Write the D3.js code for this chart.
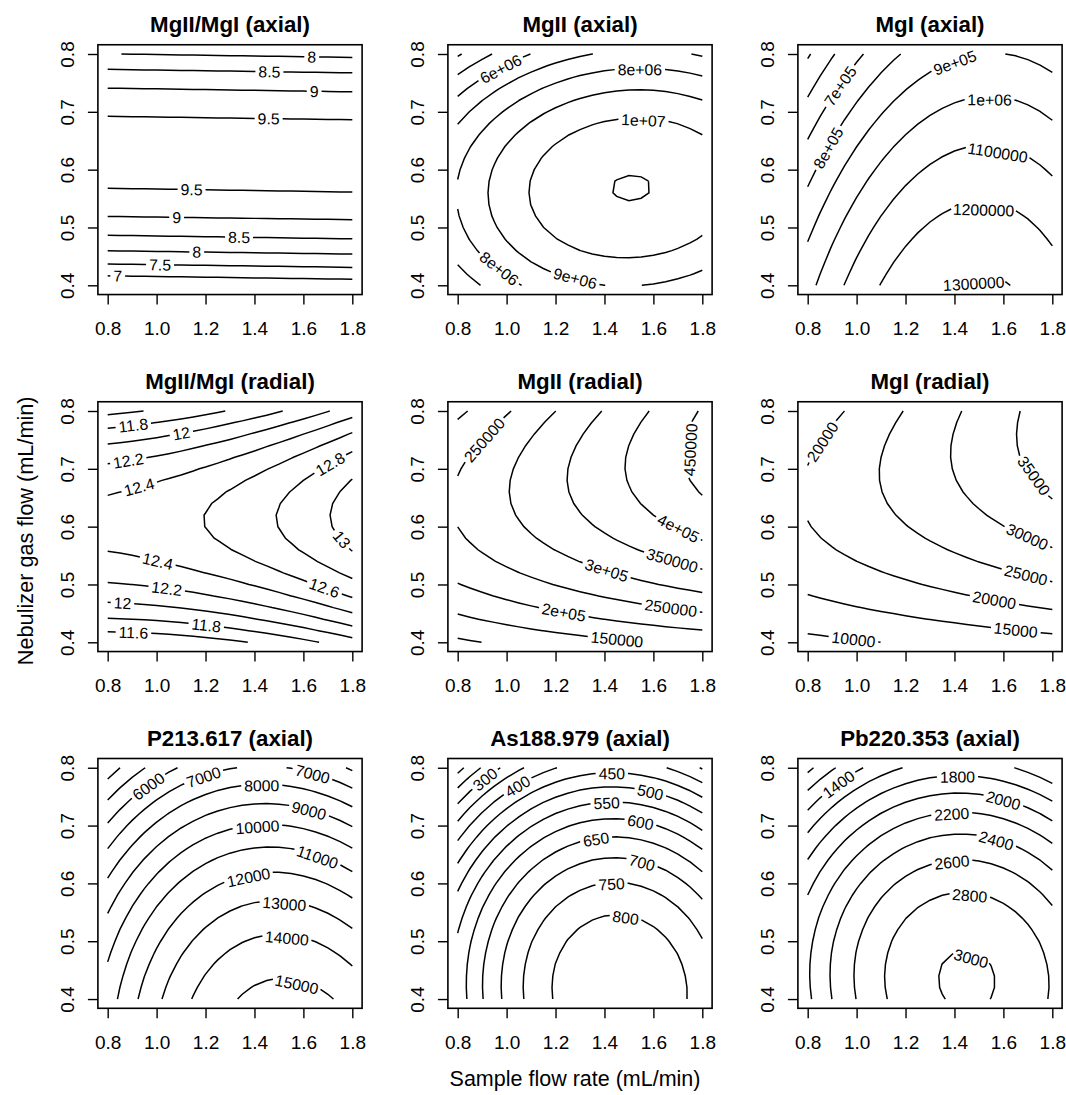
<!DOCTYPE html>
<html>
<head>
<meta charset="utf-8">
<script src="https://cdn.jsdelivr.net/npm/d3@7"></script>
<style>
  body { margin: 0; background: #fff; }
  text { font-family: "Liberation Sans", Arial, Helvetica, sans-serif; fill: #000; }
</style>
</head>
<body>
<svg id="chart" width="1066" height="1095"></svg>
<script>
////////////////// data //////////////////
var titles = ["MgII/MgI (axial)", "MgII (axial)", "MgI (axial)",
              "MgII/MgI (radial)", "MgII (radial)", "MgI (radial)",
              "P213.617 (axial)", "As188.979 (axial)", "Pb220.353 (axial)"];

var xTicks = [0.8, 1.0, 1.2, 1.4, 1.6, 1.8];
var yTicks = [0.4, 0.5, 0.6, 0.7, 0.8];

// fitted response surfaces, u = sample flow - 1.3, v = nebulizer gas flow - 0.6
// z = b0 + b1*u + b2*v + b11*u^2 + b22*v^2 + b12*u*v
var surfMgRatioAxial  = [9.694, 0.019, 3.235, -0.002, -59.9, -0.719];
var surfMgIIAxial     = [1.0692e7, 2.570e6, -4.97e6, -5.948e6, -7.1e7, 2.272e6];
var surfMgIAxial      = [1.110e6, 3.241e5, -1.0819e6, -7.3e5, -9.587e5, 2.336e5];
var surfMgRatioRadial = [12.660, 0.628, 0.632, 0.445, -24.3, 0.680];
var surfMgIIRadial    = [3.398e5, 1.6865e5, 4.858e5, -2.137e4, -2.76e6, 4.858e5];
var surfMgIRadial     = [26130, 12648, 41008, 71, -1.76e5, 41184];
var surfP             = [12124, 3295, -19851, -9230, -30243, -4477];
var surfAs            = [738.4, 185.5, -1024.7, -633, -2804.3, -104.5];
var surfPb            = [2715.5, 541.1, -3229.2, -2008, -9777.7, -376.7];

// contour levels
var levMgRatioAxial  = [7, 7.5, 8, 8.5, 9, 9.5];
var levMgIIAxial     = [4e6, 5e6, 6e6, 7e6, 8e6, 9e6, 1e7, 1.1e7];
var levMgIAxial      = [5e5, 6e5, 7e5, 8e5, 9e5, 1e6, 1.1e6, 1.2e6, 1.3e6];
var levMgRatioRadial = [11.6, 11.8, 12, 12.2, 12.4, 12.6, 12.8, 13];
var levMgIIRadial    = [1e5, 1.5e5, 2e5, 2.5e5, 3e5, 3.5e5, 4e5, 4.5e5];
var levMgIRadial     = [10000, 15000, 20000, 25000, 30000, 35000];
var levP  = [4000, 5000, 6000, 7000, 8000, 9000, 10000, 11000, 12000, 13000, 14000, 15000];
var levAs = [200, 250, 300, 350, 400, 450, 500, 550, 600, 650, 700, 750, 800];
var levPb = [1000, 1200, 1400, 1600, 1800, 2000, 2200, 2400, 2600, 2800, 3000];

// where each contour label sits: [level, sample flow, nebulizer flow]
var spotsMgRatioAxial = [[8, 1.634, 0.793], [8.5, 1.461, 0.767], [9, 1.644, 0.732], [9.5, 1.458, 0.685],
  [9.5, 1.143, 0.567], [9, 1.082, 0.519], [8.5, 1.337, 0.483], [8, 1.164, 0.457], [7.5, 1.014, 0.435], [7, 0.841, 0.415]];
var spotsMgIIAxial = [[6e6, 0.98, 0.771], [8e6, 1.545, 0.77], [1e7, 1.559, 0.683], [8e6, 0.966, 0.427], [9e6, 1.28, 0.412]];
var spotsMgIAxial = [[7e5, 0.942, 0.742], [8e5, 0.891, 0.636], [9e5, 1.548, 0.787], [1e6, 1.545, 0.714],
  [1.1e6, 1.573, 0.617], [1.2e6, 1.518, 0.527], [1.3e6, 1.48, 0.403]];
var spotsMgRatioRadial = [[11.8, 0.905, 0.774], [12, 1.103, 0.757], [12.2, 0.882, 0.72], [12.4, 0.925, 0.675],
  [12.8, 1.702, 0.714], [13, 1.747, 0.574], [12.4, 1.003, 0.537], [12.6, 1.682, 0.489], [12.2, 1.041, 0.492],
  [12, 0.86, 0.465], [11.8, 1.202, 0.426], [11.6, 0.905, 0.413]];
var spotsMgIIRadial = [[2.5e5, 0.925, 0.744], [4.5e5, 1.74, 0.733], [4e5, 1.702, 0.597], [3.5e5, 1.679, 0.545],
  [3e5, 1.416, 0.534], [2.5e5, 1.675, 0.472], [2e5, 1.235, 0.455], [1.5e5, 1.511, 0.407]];
var spotsMgIRadial = [[20000, 0.871, 0.744], [35000, 1.729, 0.689], [30000, 1.695, 0.58], [25000, 1.691, 0.515],
  [20000, 1.562, 0.47], [15000, 1.65, 0.418], [10000, 0.987, 0.405]];
var spotsP = [[6000, 0.97, 0.766], [7000, 1.194, 0.782], [7000, 1.634, 0.784], [8000, 1.43, 0.767],
  [9000, 1.62, 0.721], [10000, 1.412, 0.695], [11000, 1.657, 0.645], [12000, 1.378, 0.606],
  [13000, 1.521, 0.561], [14000, 1.532, 0.501], [15000, 1.57, 0.421]];
var spotsAs = [[300, 0.919, 0.776], [400, 1.048, 0.766], [450, 1.43, 0.789], [500, 1.586, 0.755],
  [550, 1.409, 0.734], [600, 1.545, 0.70], [650, 1.368, 0.669], [700, 1.548, 0.629], [750, 1.43, 0.59], [800, 1.484, 0.529]];
var spotsPb = [[1400, 0.929, 0.77], [1800, 1.412, 0.782], [2000, 1.60, 0.744], [2200, 1.389, 0.72],
  [2400, 1.573, 0.677], [2600, 1.389, 0.641], [2800, 1.464, 0.585], [3000, 1.47, 0.473]];

var surfaces = [surfMgRatioAxial, surfMgIIAxial, surfMgIAxial, surfMgRatioRadial, surfMgIIRadial, surfMgIRadial, surfP, surfAs, surfPb];
var levels = [levMgRatioAxial, levMgIIAxial, levMgIAxial, levMgRatioRadial, levMgIIRadial, levMgIRadial, levP, levAs, levPb];
var spots = [spotsMgRatioAxial, spotsMgIIAxial, spotsMgIAxial, spotsMgRatioRadial, spotsMgIIRadial, spotsMgIRadial, spotsP, spotsAs, spotsPb];

////////////////// layout //////////////////
var boxW = 264.2, boxH = 249.8;
var colLeft = [97.9, 447.9, 797.9];
var rowTop = [44.75, 401.75, 758.5];
var labelSize = 15.8, labelPad = 3;

var svg = d3.select("#chart");

// evaluation grid over the design region
var nx = 21, ny = 21;
var xs = d3.range(nx).map(function(i) { return 0.8 + i / (nx - 1); });
var ys = d3.range(ny).map(function(j) { return 0.4 + 0.4 * j / (ny - 1); });

function surface(c, x, y) {
  var u = x - 1.3, v = y - 0.6;
  return c[0] + c[1] * u + c[2] * v + c[3] * u * u + c[4] * v * v + c[5] * u * v;
}

// R style label: scientific only when shorter
function rLabel(v) {
  var fixed = String(v);
  var e = Math.floor(Math.log10(Math.abs(v)) + 1e-9);
  var m = +(v / Math.pow(10, e)).toPrecision(7);
  var sci = String(m) + "e" + (e < 0 ? "-" : "+") + (Math.abs(e) < 10 ? "0" : "") + Math.abs(e);
  return sci.length < fixed.length ? sci : fixed;
}

var measurer = svg.append("text").attr("font-size", labelSize).attr("visibility", "hidden");
function textWidth(s) { measurer.text(s); return measurer.node().getComputedTextLength(); }

function onEdge(p) { return p[0] <= 0 || p[0] >= nx || p[1] <= 0 || p[1] >= ny; }

// turn a d3 contour ring into open isolines (drop the grid border parts)
function ringToLines(ring) {
  var pts = ring.slice(0, ring.length - 1);
  var k = pts.findIndex(onEdge);
  if (k < 0) return [ring.slice()];
  var out = [], run = [];
  for (var n = 1; n <= pts.length; n++) {
    var p = pts[(k + n) % pts.length];
    if (onEdge(p)) { if (run.length > 1) out.push(run); run = []; }
    else run.push(p);
  }
  if (run.length > 1) out.push(run);
  return out;
}

function cumLen(pts) {
  var s = [0];
  for (var i = 1; i < pts.length; i++)
    s.push(s[i - 1] + Math.hypot(pts[i][0] - pts[i - 1][0], pts[i][1] - pts[i - 1][1]));
  return s;
}
function pointAt(L, s) {
  var c = L.cum, p = L.pts;
  if (s <= 0) return p[0].slice();
  if (s >= c[c.length - 1]) return p[p.length - 1].slice();
  var i = d3.bisectRight(c, s) - 1;
  var t = (s - c[i]) / ((c[i + 1] - c[i]) || 1);
  return [p[i][0] + t * (p[i + 1][0] - p[i][0]), p[i][1] + t * (p[i + 1][1] - p[i][1])];
}
function slicePts(L, s1, s2) {
  var out = [pointAt(L, s1)];
  for (var i = 0; i < L.pts.length; i++) if (L.cum[i] > s1 && L.cum[i] < s2) out.push(L.pts[i]);
  out.push(pointAt(L, s2));
  return out;
}
function nearest(L, q) {
  var best = {d: Infinity, s: 0};
  for (var i = 0; i < L.pts.length - 1; i++) {
    var a = L.pts[i], b = L.pts[i + 1];
    var dx = b[0] - a[0], dy = b[1] - a[1], l2 = dx * dx + dy * dy;
    var t = l2 ? ((q[0] - a[0]) * dx + (q[1] - a[1]) * dy) / l2 : 0;
    t = Math.max(0, Math.min(1, t));
    var d = Math.hypot(q[0] - (a[0] + t * dx), q[1] - (a[1] + t * dy));
    if (d < best.d) best = {d: d, s: L.cum[i] + t * Math.sqrt(l2)};
  }
  return best;
}

var line = d3.line();

////////////////// panels //////////////////
d3.range(9).forEach(function(k) {
  var left = colLeft[k % 3], top = rowTop[Math.floor(k / 3)];
  var x = d3.scaleLinear().domain([0.76, 1.84]).range([left, left + boxW]);
  var y = d3.scaleLinear().domain([0.384, 0.816]).range([top + boxH, top]);
  var g = svg.append("g");

  svg.append("clipPath").attr("id", "clip" + k)
    .append("rect").attr("x", left).attr("y", top).attr("width", boxW).attr("height", boxH);

  // surface on the grid
  var values = [];
  for (var j = 0; j < ny; j++)
    for (var i = 0; i < nx; i++) values.push(surface(surfaces[k], xs[i], ys[j]));

  var contours = d3.contours().size([nx, ny]).thresholds(levels[k])(values);

  var lines = [];
  contours.forEach(function(c) {
    c.coordinates.forEach(function(poly) {
      poly.forEach(function(ring) {
        ringToLines(ring).forEach(function(run) {
          var pts = run.map(function(p) {
            return [x(0.8 + (p[0] - 0.5) / (nx - 1)), y(0.4 + 0.4 * (p[1] - 0.5) / (ny - 1))];
          });
          lines.push({level: c.value, pts: pts, cum: cumLen(pts), gaps: []});
        });
      });
    });
  });

  // labels
  var labels = [];
  spots[k].forEach(function(h) {
    var q = [x(h[1]), y(h[2])], best = null, bestLine = null;
    lines.forEach(function(L) {
      if (L.level !== h[0]) return;
      var n = nearest(L, q);
      if (!best || n.d < best.d) { best = n; bestLine = L; }
    });
    if (!bestLine) return;
    var txt = rLabel(h[0]);
    var half = textWidth(txt) / 2 + labelPad;
    var total = bestLine.cum[bestLine.cum.length - 1];
    var s0 = best.s;
    if (total > 2 * half) s0 = Math.max(half, Math.min(total - half, s0));
    var a = pointAt(bestLine, s0 - half), b = pointAt(bestLine, s0 + half);
    var ang = Math.atan2(b[1] - a[1], b[0] - a[0]) * 180 / Math.PI;
    if (ang > 90) ang -= 180;
    if (ang <= -90) ang += 180;
    bestLine.gaps.push([s0 - half, s0 + half]);
    labels.push({x: (a[0] + b[0]) / 2, y: (a[1] + b[1]) / 2, angle: ang, text: txt});
  });

  var cg = g.append("g").attr("clip-path", "url(#clip" + k + ")");
  lines.forEach(function(L) {
    var total = L.cum[L.cum.length - 1];
    var gaps = L.gaps.sort(function(p, q) { return p[0] - q[0]; });
    var s = 0;
    gaps.forEach(function(gp) {
      if (gp[0] > s) cg.append("path").attr("d", line(slicePts(L, s, gp[0])));
      s = Math.max(s, gp[1]);
    });
    if (s < total) cg.append("path").attr("d", line(slicePts(L, s, total)));
  });
  cg.selectAll("path").attr("fill", "none").attr("stroke", "#000").attr("stroke-width", 1.5);

  cg.selectAll("text.lab")
    .data(labels)
    .enter()
    .append("text")
    .attr("class", "lab")
    .attr("transform", function(d) { return "translate(" + d.x + "," + d.y + ") rotate(" + d.angle + ")"; })
    .attr("text-anchor", "middle")
    .attr("dy", "0.36em")
    .attr("font-size", labelSize)
    .text(function(d) { return d.text; });

  // axes
  var gx = g.append("g")
    .attr("transform", "translate(0," + (top + boxH) + ")")
    .call(d3.axisBottom(x).tickValues(xTicks).tickFormat(d3.format(".1f")).tickSize(10).tickSizeOuter(0));
  gx.select(".domain").remove();
  gx.attr("font-size", 19);
  gx.selectAll(".tick line").attr("stroke", "#000").attr("stroke-width", 1.4);
  gx.selectAll(".tick text").attr("y", 40.3).attr("dy", null);

  var gy = g.append("g")
    .attr("transform", "translate(" + left + ",0)")
    .call(d3.axisLeft(y).tickValues(yTicks).tickFormat(d3.format(".1f")).tickSize(10).tickSizeOuter(0));
  gy.select(".domain").remove();
  gy.attr("font-size", 19);
  gy.selectAll(".tick line").attr("stroke", "#000").attr("stroke-width", 1.4);
  gy.selectAll(".tick text")
    .attr("x", 0).attr("y", -24.3).attr("dy", null)
    .attr("transform", "rotate(-90)")
    .attr("text-anchor", "middle");

  // box
  g.append("rect")
    .attr("x", left).attr("y", top).attr("width", boxW).attr("height", boxH)
    .attr("fill", "none").attr("stroke", "#000").attr("stroke-width", 1.6);

  // title
  g.append("text")
    .attr("x", left + boxW / 2)
    .attr("y", top - 12.45)
    .attr("text-anchor", "middle")
    .attr("font-size", 22.3)
    .attr("font-weight", "bold")
    .text(titles[k]);
});

// outer axis labels
svg.append("text")
  .attr("x", 575).attr("y", 1086)
  .attr("text-anchor", "middle")
  .attr("font-size", 21.5)
  .text("Sample flow rate (mL/min)");

svg.append("text")
  .attr("transform", "translate(33,530.8) rotate(-90)")
  .attr("text-anchor", "middle")
  .attr("font-size", 21.7)
  .text("Nebulizer gas flow (mL/min)");
</script>
</body>
</html>
